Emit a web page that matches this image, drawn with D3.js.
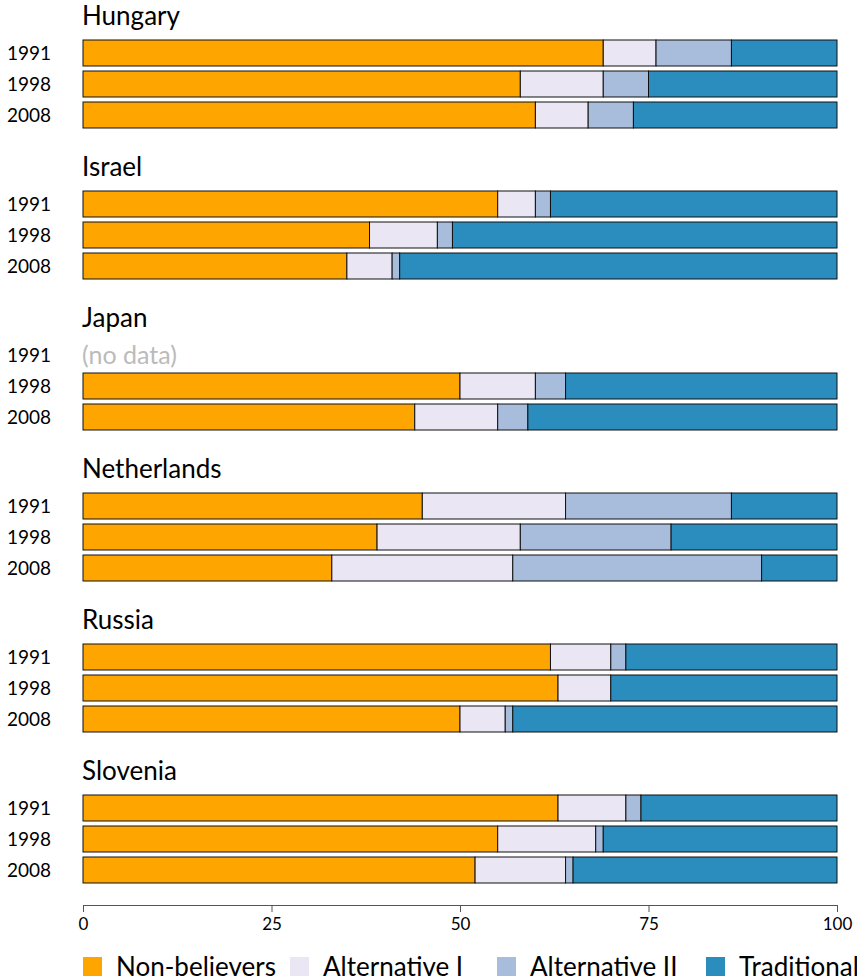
<!DOCTYPE html>
<html><head><meta charset="utf-8">
<script src="https://cdn.jsdelivr.net/npm/d3@7"></script>
<style>
body{margin:0;background:#fff;}
text{font-family:Lato,"Open Sans",sans-serif;}
</style></head>
<body><div id="chart"></div>
<script>
const countries = ["Hungary","Israel","Japan","Netherlands","Russia","Slovenia"];
const years = ["1991","1998","2008"];
const seriesNames = ["Non-believers","Alternative I","Alternative II","Traditional"];
const colors = ["#FFA500","#EAE6F3","#A8BDDC","#2B8CBE"];
const ticks = [0,25,50,75,100];
// values per country, per year: [Non-believers, Alternative I, Alternative II, Traditional]; null = no data
const hungary = [[69,7,10,14],[58,11,6,25],[60,7,6,27]];
const israel = [[55,5,2,38],[38,9,2,51],[35,6,1,58]];
const japan = [null,[50,10,4,36],[44,11,4,41]];
const netherlands = [[45,19,22,14],[39,19,20,22],[33,24,33,10]];
const russia = [[62,8,2,28],[63,7,0,30],[50,6,1,43]];
const slovenia = [[63,9,2,26],[55,13,1,31],[52,12,1,35]];
const dataByCountry = [hungary, israel, japan, netherlands, russia, slovenia];

const W = 857, H = 980;
const svg = d3.select("#chart").append("svg").attr("width", W).attr("height", H);

const x = d3.scaleLinear().domain([0,100]).range([83,837]);
const panelY = d3.scalePoint().domain(countries).range([53, 53+151*5]);
const barH = 26;

countries.forEach((c, ci) => {
  const g = svg.append("g").attr("transform", `translate(0,${panelY(c)})`);
  g.append("text").attr("x", 82).attr("y", -37).attr("dy","0.35em")
    .attr("font-size", 26).attr("fill", "#000").text(c);
  years.forEach((yr, yi) => {
    const cy = yi*31;
    g.append("text").attr("x", 51).attr("y", cy).attr("dy","0.35em")
      .attr("text-anchor","end").attr("font-size", 19).attr("fill","#000").text(yr);
    const vals = dataByCountry[ci][yi];
    if (!vals) {
      g.append("text").attr("x", 82).attr("y", cy).attr("dy","0.35em")
        .attr("font-size", 25).attr("fill","#bbbbbb").text("(no data)");
      return;
    }
    let cum = 0;
    const segs = vals.map((v,i) => { const s = {i, x0: cum, x1: cum+v}; cum += v; return s; })
      .filter(s => s.x1 > s.x0);
    g.selectAll(null).data(segs).enter().append("rect")
      .attr("x", d => x(d.x0)).attr("width", d => x(d.x1)-x(d.x0))
      .attr("y", cy - barH/2).attr("height", barH)
      .attr("fill", d => colors[d.i]).attr("stroke", "#111").attr("stroke-width", 1);
  });
});

// x axis
const axisG = svg.append("g").attr("transform", "translate(0,905)")
  .call(d3.axisBottom(x).tickValues(ticks).tickSize(7).tickPadding(6).tickSizeOuter(7));
axisG.select(".domain").attr("stroke","#555");
axisG.selectAll(".tick line").attr("stroke","#555");
axisG.selectAll(".tick text").attr("font-size",17).attr("fill","#000").style("font-family","Lato");

// legend
const legX = [83, 290, 497, 706];
const leg = svg.append("g").attr("transform","translate(0,966)");
seriesNames.forEach((n,i) => {
  leg.append("rect").attr("x", legX[i]).attr("y", -9).attr("width", 19).attr("height", 19).attr("fill", colors[i]);
  leg.append("text").attr("x", legX[i]+33).attr("y", 1).attr("dy","0.35em")
    .attr("font-size", 26).attr("fill","#000").text(n);
});
</script></body></html>
